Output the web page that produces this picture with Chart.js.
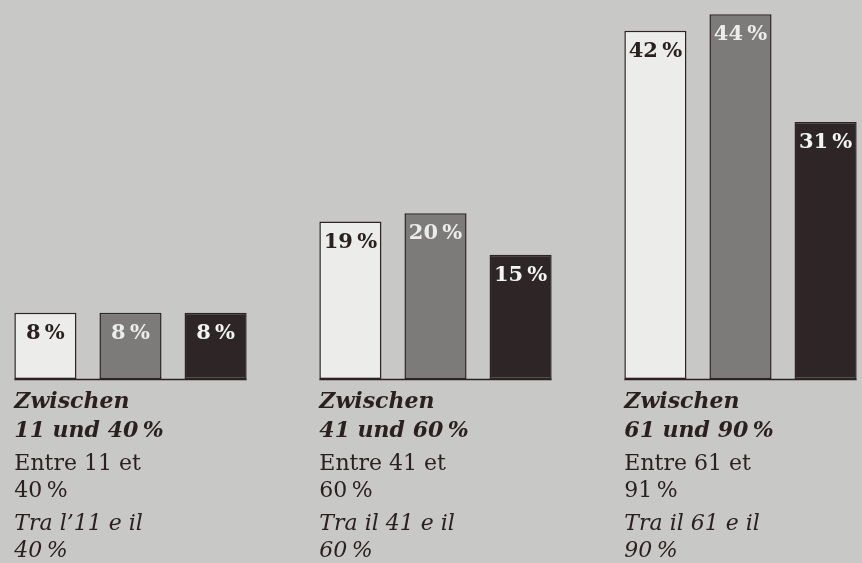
<!DOCTYPE html>
<html>
<head>
<meta charset="utf-8">
<script src="https://cdn.jsdelivr.net/npm/chart.js@4/dist/chart.umd.min.js"></script>
<style>
    html, body { margin: 0; padding: 0; background: #c8c8c6; overflow: hidden; }
    #wrap { position: absolute; left: -22px; top: 0; width: 915px; height: 563px; }
</style>
</head>
<body>
<div id="wrap"><canvas id="chart" width="915" height="563"></canvas></div>
<script>
// Share per range, three series (white, grey, black bars)
const categories = ['11-40%', '41-60%', '61-90%'];
const seriesNames = ['Serie 1', 'Serie 2', 'Serie 3'];
const whiteValues = [8, 19, 42];
const greyValues = [8, 20, 44];
const blackValues = [8, 15, 31];

// Three-language labels under each group, two lines each
const labelsDe = [['Zwischen', '11 und 40\u2009%'], ['Zwischen', '41 und 60\u2009%'], ['Zwischen', '61 und 90\u2009%']];
const labelsFr = [['Entre 11 et', '40\u2009%'], ['Entre 41 et', '60\u2009%'], ['Entre 61 et', '91\u2009%']];
const labelsIt = [['Tra l\u201911 e il', '40\u2009%'], ['Tra il 41 e il', '60\u2009%'], ['Tra il 61 e il', '90\u2009%']];

const fillColors = ['#ececea', '#7c7b7a', '#2e2626'];
const textColors = ['#2b2020', '#ececec', '#f4f4f4'];
const inkColor = '#2b2020';
const serif = "'DejaVu Serif', 'Liberation Serif', serif";

// Draws value labels, per-group baselines and the text blocks under each group
const annotate = {
    id: 'annotate',
    afterDatasetsDraw(chart) {
        const ctx = chart.ctx;
        const metas = chart.data.datasets.map((d, i) => chart.getDatasetMeta(i));
        ctx.save();

        // values inside bar tops
        metas.forEach((meta, di) => {
            meta.data.forEach((bar, i) => {
                const v = chart.data.datasets[di].data[i];
                ctx.font = 'bold 21px ' + serif;
                ctx.fillStyle = textColors[di];
                ctx.textAlign = 'center';
                ctx.textBaseline = 'alphabetic';
                ctx.fillText(v + '\u2009%', bar.x, bar.y + 26);
            });
        });

        categories.forEach((c, i) => {
            const first = metas[0].data[i];
            const last = metas[metas.length - 1].data[i];
            const left = first.x - first.width / 2;
            const right = last.x + last.width / 2;
            const base = first.base;

            // baseline of the group
            ctx.strokeStyle = inkColor;
            ctx.lineWidth = 1.5;
            ctx.beginPath();
            ctx.moveTo(left, base + 0.5);
            ctx.lineTo(right, base + 0.5);
            ctx.stroke();

            ctx.fillStyle = inkColor;
            ctx.textAlign = 'left';
            ctx.textBaseline = 'alphabetic';
            ctx.font = 'italic bold 22px ' + serif;
            ctx.fillText(labelsDe[i][0], left, base + 29);
            ctx.fillText(labelsDe[i][1], left, base + 58);
            ctx.font = '22px ' + serif;
            ctx.fillText(labelsFr[i][0], left, base + 91);
            ctx.fillText(labelsFr[i][1], left, base + 118);
            ctx.font = 'italic 22px ' + serif;
            ctx.fillText(labelsIt[i][0], left, base + 151);
            ctx.fillText(labelsIt[i][1], left, base + 178);
        });
        ctx.restore();
    }
};

const seriesValues = [whiteValues, greyValues, blackValues];

new Chart(document.getElementById('chart').getContext('2d'), {
    type: 'bar',
    data: {
        labels: categories,
        datasets: seriesValues.map((vals, i) => ({
            label: seriesNames[i],
            data: vals,
            backgroundColor: fillColors[i],
            borderColor: '#2f2424',
            borderWidth: 1.5,
            borderSkipped: false,
            categoryPercentage: 0.837,
            barPercentage: 0.73
        }))
    },
    options: {
        responsive: false,
        animation: false,
        layout: { padding: { top: 6, bottom: 184, left: 0, right: 0 } },
        scales: {
            x: { display: false, offset: true },
            y: { display: false, min: 0, max: 45 }
        },
        plugins: {
            legend: { display: false },
            tooltip: { enabled: false }
        }
    },
    plugins: [annotate]
});
</script>
</body>
</html>
